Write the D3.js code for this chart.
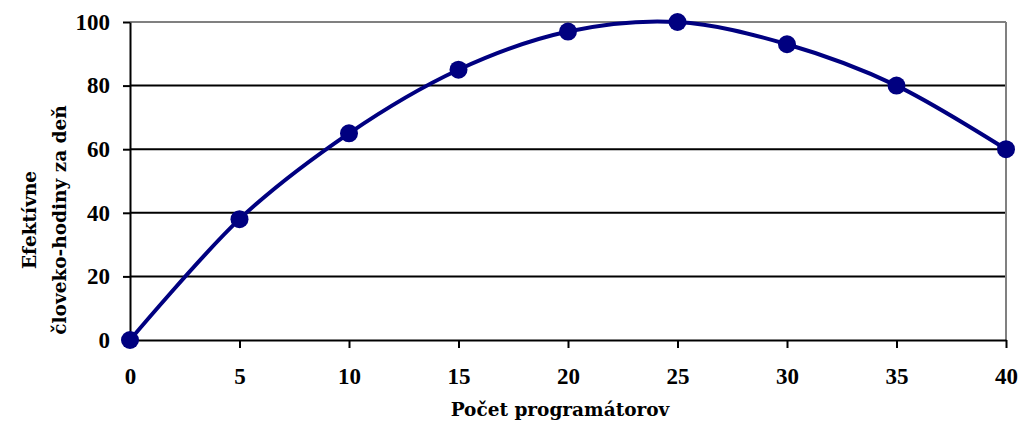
<!DOCTYPE html>
<html>
<head>
<meta charset="utf-8">
<script src="https://cdn.jsdelivr.net/npm/d3@7"></script>
<style>
  html, body { margin: 0; padding: 0; background: #fff; }
  svg { display: block; }
  text { font-weight: bold; fill: #000; }
</style>
</head>
<body>
<svg id="chart" width="1019" height="421"></svg>
<script>
// Programmers on a team vs. effective person-hours per day
const programmers = [0, 5, 10, 15, 20, 25, 30, 35, 40];
const effectiveHours = [0, 38, 65, 85, 97, 100, 93, 80, 60];
const xTicks = [0, 5, 10, 15, 20, 25, 30, 35, 40];
const yTicks = [0, 20, 40, 60, 80, 100];
const xTitle = "Počet programátorov";
const yTitleLines = ["Efektívne", "človeko-hodiny za deň"];

const tickFont = "Liberation Serif, serif";
const titleFont = "DejaVu Serif, serif";

const svg = d3.select("#chart");
const plotLeft = 130, plotRight = 1006, plotTop = 22, plotBottom = 340;

const x = d3.scaleLinear().domain([0, 40]).range([plotLeft, plotRight]);
const y = d3.scaleLinear().domain([0, 100]).range([plotBottom, plotTop]);

// horizontal grid lines
svg.append("g")
  .selectAll("line")
  .data(yTicks.filter(d => d > 0 && d < 100))
  .join("line")
  .attr("x1", plotLeft).attr("x2", plotRight)
  .attr("y1", d => y(d)).attr("y2", d => y(d))
  .attr("stroke", "#000").attr("stroke-width", 2);

// plot frame: top and right in grey
svg.append("line")
  .attr("x1", plotLeft).attr("x2", plotRight).attr("y1", y(100)).attr("y2", y(100))
  .attr("stroke", "#808080").attr("stroke-width", 2);
svg.append("line")
  .attr("x1", plotRight).attr("x2", plotRight).attr("y1", y(100)).attr("y2", y(0))
  .attr("stroke", "#808080").attr("stroke-width", 2);

// y axis
const yAxis = svg.append("g")
  .attr("transform", `translate(${plotLeft},0)`)
  .call(d3.axisLeft(y).tickValues(yTicks).tickSize(7).tickPadding(13).tickSizeOuter(0));
yAxis.select(".domain").attr("stroke", "#000").attr("stroke-width", 2);
yAxis.selectAll(".tick line").attr("stroke", "#000").attr("stroke-width", 2);
yAxis.selectAll(".tick text")
  .attr("font-size", 23)
  .attr("font-family", tickFont)
  .attr("font-weight", "bold")
  .attr("fill", "#000");

// x axis
const xAxis = svg.append("g")
  .attr("transform", `translate(0,${plotBottom})`)
  .call(d3.axisBottom(x).tickValues(xTicks).tickSize(8).tickPadding(20).tickSizeOuter(0));
xAxis.select(".domain").attr("stroke", "#000").attr("stroke-width", 2);
xAxis.selectAll(".tick line").attr("stroke", "#000").attr("stroke-width", 2);
xAxis.selectAll(".tick text")
  .attr("font-size", 23)
  .attr("font-family", tickFont)
  .attr("font-weight", "bold")
  .attr("fill", "#000");

// smoothed series line
const pts = programmers.map((p, i) => [p, effectiveHours[i]]);
svg.append("path")
  .datum(pts)
  .attr("fill", "none")
  .attr("stroke", "#000080")
  .attr("stroke-width", 4)
  .attr("d", d3.line().x(d => x(d[0])).y(d => y(d[1])).curve(d3.curveCatmullRom.alpha(0)));

// markers
svg.append("g")
  .selectAll("circle")
  .data(pts)
  .join("circle")
  .attr("cx", d => x(d[0]))
  .attr("cy", d => y(d[1]))
  .attr("r", 9)
  .attr("fill", "#000080");

// axis titles
svg.append("text")
  .attr("x", 560)
  .attr("y", 416)
  .attr("text-anchor", "middle")
  .attr("font-family", titleFont)
  .attr("font-size", 18.5)
  .text(xTitle);

const yt = svg.append("text")
  .attr("transform", "translate(0,220) rotate(-90)")
  .attr("text-anchor", "middle")
  .attr("font-family", titleFont)
  .attr("font-size", 18.5);
yt.append("tspan").attr("x", 0).attr("y", 36).text(yTitleLines[0]);
yt.append("tspan").attr("x", 0).attr("y", 66).text(yTitleLines[1]);
</script>
</body>
</html>
